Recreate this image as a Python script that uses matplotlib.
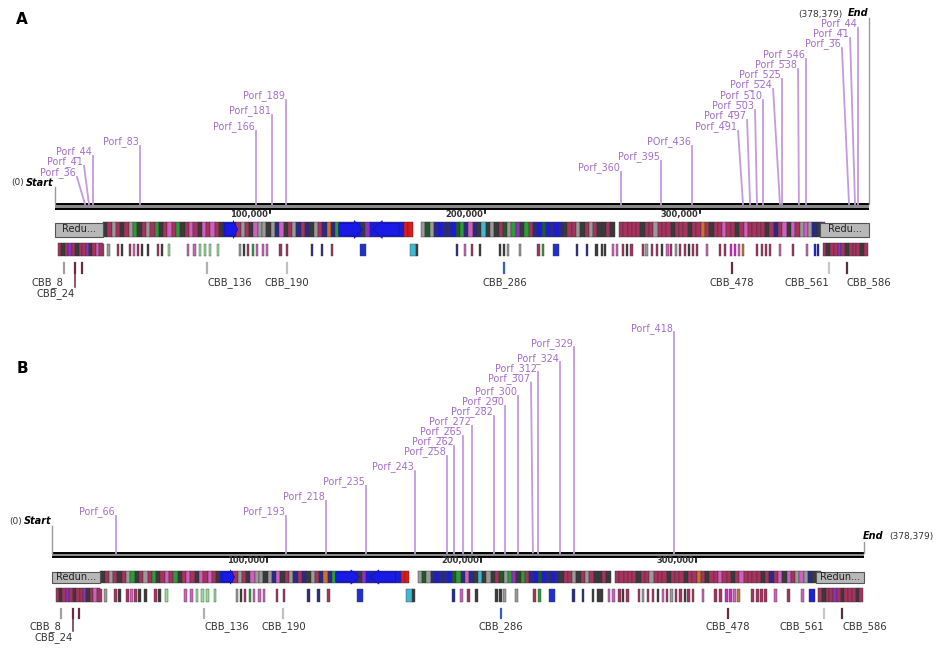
import numpy as np
import matplotlib.pyplot as plt
from matplotlib.patches import Rectangle, Polygon

GENOME_LEN = 378379

# gene colour codes used in the map
gene_colors = {
    "m": "#a8325e", "k": "#3a3a3a", "g": "#9a9a9a", "G": "#2f9a3a",
    "l": "#90e090", "p": "#d060c0", "P": "#e020d0", "n": "#2a2a8a",
    "b": "#1a1ae6", "B": "#2030d0", "c": "#40b8d0", "r": "#e01818",
    "v": "#9030c0", "o": "#d07030", "d": "#1f5a2a",
}

# upper gene track: one char per 2 kb slot, starting after the redundant block
track1_start = 22.3
track1_unit = 2.0
track1_codes = ("kmgmkmgGkmgmGkmpmGkmpmkpmpmk" "bbbm" "gmkpggk" "gnpkmgnm"
                "nkgmnon" "Gbbbbbk" "vb" "bbbbbb" "brr" "  " "gdgnbnn"
                "bdGnpnk" "ckgkm" "dgGvkGm" "nbdbnbn" "kmmgkmgmk" "kmk mm"
                "mmmkmmgm" "mmkmmmkmm" "omkmm" "pmmkmpm" "mmmkm" "nmpkp" "mgpgnkv")
track1_arrows = [(79, 85, 1), (132, 143, 1), (148, 160, -1)]   # kb start, end, strand
redundant_kb = [(0, 22.3), (356, GENOME_LEN / 1000)]

# lower gene track
track2_runs = [(1.4, "mkmvmkmmvkmpm", 1.6), (357.0, "mkmmvmkmmmkm", 1.75)]
track2_kb = [22.3, 24.7, 29.3, 31.2, 34.9, 36.7, 38.6, 40.5, 43.3, 47.9,
             49.8, 53.0, 61.9, 64.7, 67.4, 69.8, 72.1, 75.8, 86.0, 87.9,
             89.8, 92.1, 94.0, 96.7, 98.6, 104.7, 107.9, 119.5, 124.2, 128.8,
             143.3, 166.5, 168.4, 187.0, 190.7, 194.0, 197.7, 207.0, 208.8, 210.7,
             216.3, 224.7, 227.0, 233.0, 242.8, 247.4, 252.0, 254.4, 255.8, 259.5,
             261.4, 264.2, 266.0, 268.0, 273.5, 275.3, 277.7, 280.0, 282.3, 284.7,
             286.5, 288.8, 290.7, 293.0, 294.9, 296.7, 298.6, 303.3, 309.3, 311.6,
             314.4, 316.3, 318.1, 320.0, 326.5, 328.8, 330.7, 332.6, 337.2, 343.3,
             349.8, 353.5, 354.9]
track2_codes = ("mgmkmpmkkm" "klppllllgk" "mGpppmmnnm" "Bcknpmkkkg" "gmGBnnkkkp"
                "pmkmmgmmkp" "mgmmkmmpmm" "PPpommmmpm" "pbb")

# CBB markers under the map
cbb_names = ["CBB_8", "CBB_24", "", "CBB_136", "CBB_190", "CBB_286", "CBB_478", "CBB_561", "CBB_586"]
cbb_kb = [4.1, 9.4, 12.5, 70.7, 107.7, 209.0, 315.0, 359.9, 368.3]
cbb_colors = ["#a0a0a0", "#6a2a45", "#6a2a45", "#b0b0b0", "#c0c0c0", "#3060d0", "#6a2a45", "#c8c8c8", "#5a3040"]
cbb_ha = ["right", "right", "center", "left", "center", "center", "center", "right", "left"]

# panel A Porf markers
porfA_names = ["Porf_36", "Porf_41", "Porf_44", "Porf_83", "Porf_166", "Porf_181", "Porf_189",
               "Porf_360", "Porf_395", "POrf_436", "Porf_491", "Porf_497", "Porf_503", "Porf_510",
               "Porf_524", "Porf_525", "Porf_538", "Porf_546", "Porf_36", "Porf_41", "Porf_44"]
porfA_kb = [13.95, 15.8, 17.67, 39.5, 93.5, 100.9, 107.4, 263.3, 281.9, 296.3, 320.0,
            323.3, 326.5, 329.3, 337.2, 338.1, 346.0, 349.3, 369.3, 372.1, 373.5]
porfA_label_kb = [10.2, 13.5, 17.67, 39.5, 93.5, 100.9, 107.4, 263.3, 281.9, 296.3, 317.7,
                  321.9, 325.6, 329.3, 334.0, 338.1, 345.6, 349.3, 366.0, 369.8, 373.5]
porfA_h = [27, 38, 48, 58, 73, 89, 104, 32, 43, 58, 73, 84, 94, 104, 115, 125, 135, 145, 156, 166, 176]

# panel B Porf markers
porfB_names = ["Porf_66", "Porf_193", "Porf_218", "Porf_235", "Porf_243", "Porf_258", "Porf_262",
               "Porf_265", "Porf_272", "Porf_282", "Porf_290", "Porf_300", "Porf_307", "Porf_312",
               "Porf_324", "Porf_329", "Porf_418"]
porfB_kb = [29.6, 108.9, 127.5, 146.2, 169.0, 183.9, 187.2, 191.4, 195.6, 205.9, 211.0,
            217.1, 224.0, 226.4, 236.6, 243.2, 289.8]
porfB_label_kb = [29.6, 108.9, 127.5, 146.2, 169.0, 183.9, 187.2, 191.4, 195.6, 205.9, 211.0,
                  217.1, 223.1, 226.4, 236.6, 243.2, 289.8]
porfB_h = [37, 37, 52, 67, 82, 96.5, 106.5, 116.5, 126.5, 136.5, 146.5, 156.5, 170, 180, 190, 205, 220]

ruler_ticks = [100000, 200000, 300000]

STEM = "#c49ae0"
LABEL = "#a66ccc"


def draw_panel(ax, lay, names, kb, label_kb, heights, start_h, end_h, end_right, redund_text):
    y0 = lay["axis"]
    top = y0 - 2.5
    # ruler (double line)
    ax.add_patch(Rectangle((0, y0 - 2.3), GENOME_LEN, 4.6, color="#8a8a8a", lw=0))
    ax.hlines([y0 - 2.2, y0 + 2.2], 0, GENOME_LEN, color="black", lw=1.4)
    for t in ruler_ticks:
        ax.plot([t, t], [y0 + 2.5, y0 + 7], color="black", lw=1.2)
        ax.text(t - 900, lay["tick"], f"{t:,}", ha="right", va="center",
                fontsize=6, color="#333333", fontweight="bold")

    # start / end
    ax.plot([0, 0], [top, top - start_h], color="#9a9a9a", lw=1)
    ax.plot([GENOME_LEN, GENOME_LEN], [top, top - end_h], color="#9a9a9a", lw=1)
    ax.annotate("Start", (0, top - start_h - 1.5), ha="right", va="baseline",
                fontsize=7, fontweight="bold", fontstyle="italic", xytext=(-1, 0),
                textcoords="offset points")
    ax.annotate("(0)", (0, top - start_h - 1.5), ha="right", va="baseline",
                fontsize=6.5, color="#333333", xytext=(-22, 0), textcoords="offset points")
    if end_right:
        ax.annotate("End", (GENOME_LEN, top - end_h - 1.5), ha="right", va="baseline",
                    fontsize=7, fontweight="bold", fontstyle="italic", xytext=(0, 0),
                    textcoords="offset points")
        ax.annotate("(378,379)", (GENOME_LEN, top - end_h - 1.5), ha="right", va="baseline",
                    fontsize=6.5, color="#333333", xytext=(-19, 0), textcoords="offset points")
    else:
        ax.annotate("End", (GENOME_LEN, top - end_h - 2.5), ha="left", va="baseline",
                    fontsize=7, fontweight="bold", fontstyle="italic", xytext=(-1, 0),
                    textcoords="offset points")
        ax.annotate("(378,379)", (GENOME_LEN, top - end_h - 2.5), ha="left", va="baseline",
                    fontsize=6.5, color="#333333", xytext=(18, 0), textcoords="offset points")

    # Porf stems and labels
    for name, x, xl, h in zip(names, kb, label_kb, heights):
        ax.plot([x * 1000, xl * 1000], [top, top - h], color=STEM, lw=1.3)
        ax.text(xl * 1000 - 400, top - h - 1.5, name, ha="right", va="baseline",
                fontsize=6.9, color=LABEL)

    # upper gene track
    t1a, t1b = lay["t1"]
    for i, c in enumerate(track1_codes):
        if c == " ":
            continue
        x = (track1_start + i * track1_unit) * 1000
        ax.add_patch(Rectangle((x, t1a), track1_unit * 1000, t1b - t1a,
                               facecolor=gene_colors[c], edgecolor="#333333", lw=0.3))
    mid = (t1a + t1b) / 2
    half = (t1b - t1a) / 2
    for s, e, strand in track1_arrows:
        s, e = s * 1000, e * 1000
        head = (e - s) * 0.35
        if strand > 0:
            pts = [(s, mid - half * 0.8), (e - head, mid - half * 0.8), (e - head, mid - half * 1.2),
                   (e, mid), (e - head, mid + half * 1.2), (e - head, mid + half * 0.8), (s, mid + half * 0.8)]
        else:
            pts = [(e, mid - half * 0.8), (s + head, mid - half * 0.8), (s + head, mid - half * 1.2),
                   (s, mid), (s + head, mid + half * 1.2), (s + head, mid + half * 0.8), (e, mid + half * 0.8)]
        ax.add_patch(Polygon(pts, closed=True, facecolor=gene_colors["b"], edgecolor="#1010a0", lw=0.4))
    for s, e in redundant_kb:
        ax.add_patch(Rectangle((s * 1000, t1a + 0.5), (e - s) * 1000, t1b - t1a - 1,
                               facecolor="#b8b8b8", edgecolor="#555555", lw=0.8))
        ax.text((s + e) * 500, mid, redund_text, ha="center", va="center",
                fontsize=7, color="#222222")

    # lower gene track
    t2a, t2b = lay["t2"]
    for start, codes, unit in track2_runs:
        for i, c in enumerate(codes):
            ax.add_patch(Rectangle(((start + i * unit) * 1000, t2a), unit * 1000, t2b - t2a,
                                   facecolor=gene_colors[c], edgecolor="#333333", lw=0.3))
    for x, c in zip(track2_kb, track2_codes):
        w = 3.0 if c == "B" or c == "c" else 1.3
        ax.add_patch(Rectangle((x * 1000 - w * 500, t2a + 0.5), w * 1000, t2b - t2a - 1,
                               facecolor=gene_colors[c], edgecolor="#444444", lw=0.3))

    # CBB markers
    ca, cb = lay["cbb"]
    for name, x, col, ha in zip(cbb_names, cbb_kb, cbb_colors, cbb_ha):
        if name == "CBB_24":
            ax.plot([x * 1000, x * 1000], [ca, lay["lab2"] - 7], color=col, lw=1.1)
            ax.plot([x * 1000, x * 1000], [ca, cb], color=col, lw=1.6)
            ax.text(x * 1000, lay["lab2"], name, ha=ha, va="center", fontsize=7.2, color="#333333")
            continue
        ax.plot([x * 1000, x * 1000], [ca, cb], color=col, lw=1.6)
        if name:
            ax.text(x * 1000, lay["lab"], name, ha=ha, va="center", fontsize=7.2, color="#333333")


fig = plt.figure(figsize=(9.4, 6.49), dpi=100)

axA = fig.add_axes([0, 329 / 649, 1, 320 / 649])
axA.set_xlim(-25581, 411628)
axA.set_ylim(320, 0)
axA.set_axis_off()
layA = {"axis": 206.5, "tick": 215, "t1": (222, 237), "t2": (243, 256),
        "cbb": (263, 273), "lab": 283, "lab2": 294}
draw_panel(axA, layA, porfA_names, porfA_kb, porfA_label_kb, porfA_h, 17, 186, True, "Redu...")

axB = fig.add_axes([0, 0, 1, 329 / 649])
axB.set_xlim(-24479, 413815)
axB.set_ylim(649, 320)
axB.set_axis_off()
layB = {"axis": 555, "tick": 561, "t1": (571, 583), "t2": (588, 602),
        "cbb": (609, 618), "lab": 627, "lab2": 638}
draw_panel(axB, layB, porfB_names, porfB_kb, porfB_label_kb, porfB_h, 27, 11, False, "Redun...")

fig.text(22 / 940, 1 - 20 / 649, "A", fontsize=11, fontweight="bold", ha="center", va="center")
fig.text(22 / 940, 1 - 369 / 649, "B", fontsize=11, fontweight="bold", ha="center", va="center")

fig.savefig("out.png", dpi=100)
